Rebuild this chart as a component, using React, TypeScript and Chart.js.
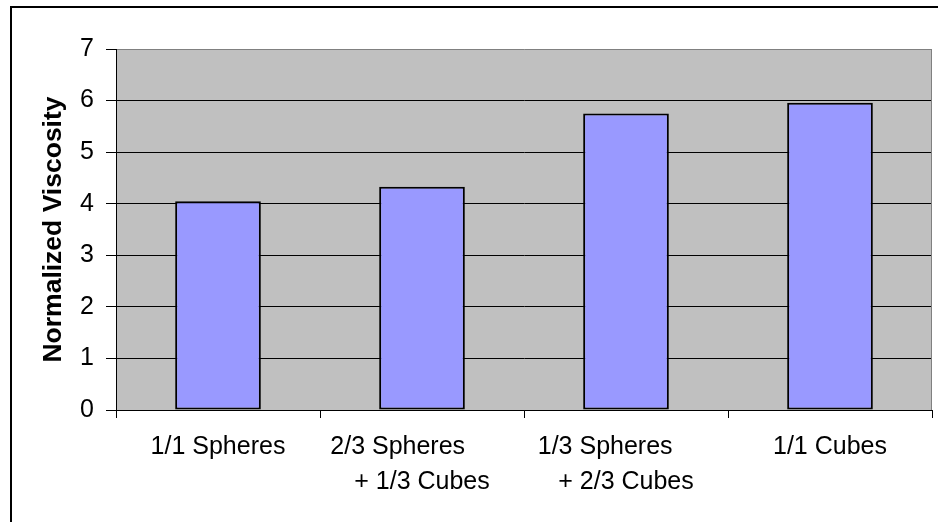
import React, { useEffect, useRef } from 'react';
import { Chart, registerables } from 'chart.js';

Chart.register(...registerables);

const categories: string[][] = [
  ['1/1 Spheres'],
  ['2/3 Spheres       ', '+ 1/3 Cubes'],
  ['1/3 Spheres      ', '+ 2/3 Cubes'],
  ['1/1 Cubes'],
];
const viscosity: number[] = [4.05, 4.33, 5.75, 5.96];
const yTitle = 'Normalized Viscosity';
const yMin = 0;
const yMax = 7;
const yStep = 1;

const FONT = "'Liberation Sans', Arial, Helvetica, sans-serif";

const framePlugin = {
  id: 'frame',
  beforeDraw(chart: any) {
    const { ctx, chartArea: a } = chart;
    ctx.save();
    ctx.fillStyle = '#C0C0C0';
    ctx.fillRect(a.left, a.top, a.right - a.left, a.bottom - a.top);
    ctx.fillStyle = '#000000';
    ctx.fillRect(10, 6, 928, 2);
    ctx.fillRect(10, 6, 2, 516);
    ctx.restore();
  },
  afterDraw(chart: any) {
    const { ctx, chartArea: a } = chart;
    ctx.save();
    ctx.fillStyle = '#808080';
    ctx.fillRect(Math.round(a.right) - 1, Math.round(a.top), 1, Math.round(a.bottom - a.top));
    ctx.restore();
  },
};

export default function App() {
  const ref = useRef<HTMLCanvasElement | null>(null);
  useEffect(() => {
    if (!ref.current) return;
    const chart = new Chart(ref.current, {
      type: 'bar',
      data: {
        labels: categories,
        datasets: [
          {
            data: viscosity,
            backgroundColor: '#9999FF',
            borderColor: '#000000',
            borderWidth: 2,
            borderSkipped: false,
            barPercentage: 0.42,
            categoryPercentage: 1,
          },
        ],
      },
      options: {
        animation: false,
        responsive: true,
        maintainAspectRatio: false,
        layout: { padding: { top: 49, right: 6, left: 0, bottom: 0 } },
        plugins: {
          legend: { display: false },
          tooltip: { enabled: false },
        },
        scales: {
          x: {
            offset: true,
            grid: {
              offset: true,
              display: true,
              drawOnChartArea: false,
              drawTicks: true,
              tickLength: 8,
              tickColor: '#000000',
              color: '#000000',
            },
            border: { display: true, color: '#000000', width: 1 },
            ticks: {
              color: '#000000',
              font: { family: FONT, size: 25, lineHeight: 1.38 },
              padding: 12,
              maxRotation: 0,
              minRotation: 0,
              autoSkip: false,
            },
            afterFit: (scale: any) => {
              scale.height = 112;
            },
          },
          y: {
            min: yMin,
            max: yMax,
            ticks: {
              stepSize: yStep,
              color: '#000000',
              font: { family: FONT, size: 25 },
              padding: 12,
            },
            grid: {
              color: (c: any) => (c.tick && c.tick.value === yMax ? '#808080' : '#000000'),
              tickColor: '#000000',
              tickLength: 10,
              lineWidth: 1,
            },
            border: { display: true, color: '#000000', width: 1 },
            title: {
              display: true,
              text: yTitle,
              color: '#000000',
              font: { family: FONT, size: 26.5, weight: 'bold' },
              padding: { top: 38, bottom: 0 },
            },
            afterFit: (scale: any) => {
              scale.width = 116;
            },
          },
        },
      },
      plugins: [framePlugin],
    });
    return () => chart.destroy();
  }, []);
  return (
    <div style={{ position: 'fixed', left: 0, top: 0, width: 938, height: 522, background: '#ffffff' }}>
      <canvas ref={ref} />
    </div>
  );
}
